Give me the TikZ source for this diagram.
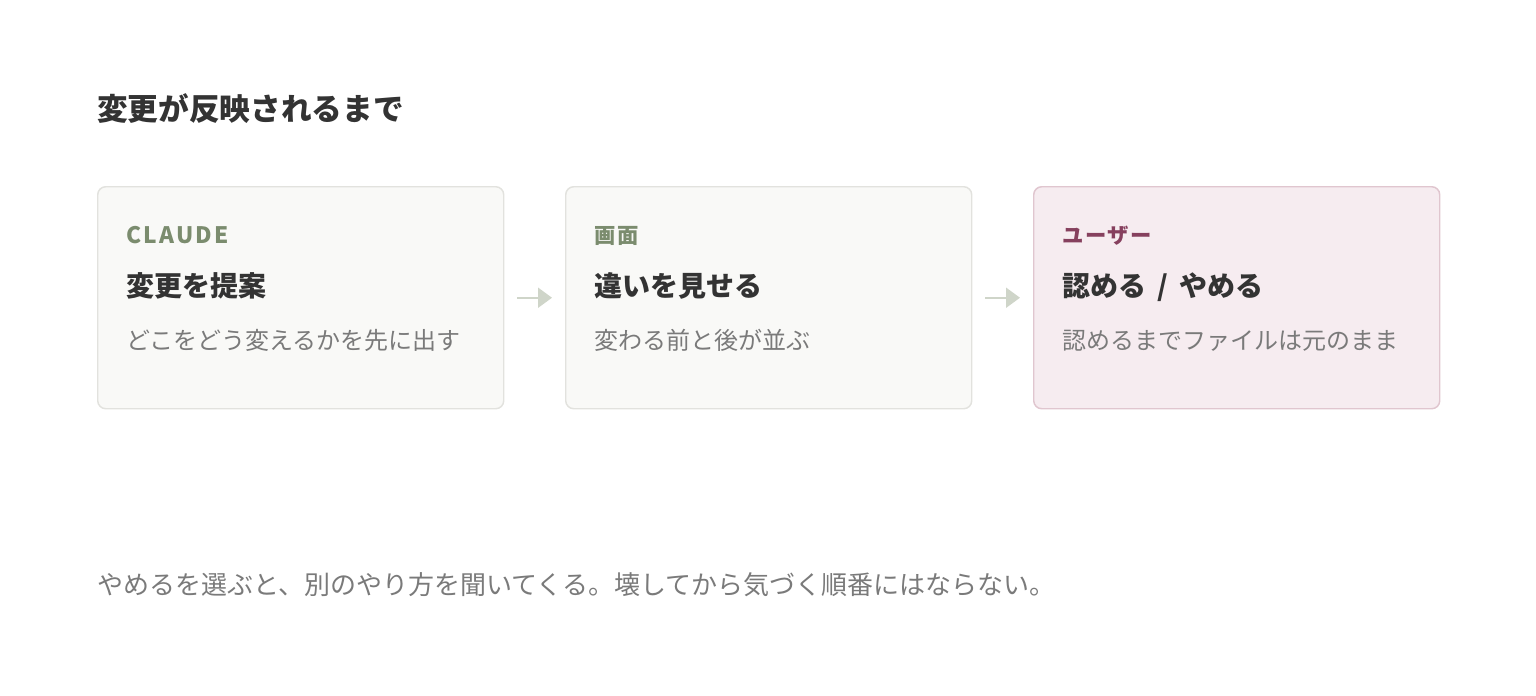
\documentclass[tikz,border=0pt]{standalone}
\usepackage{fontspec}
\setmainfont{Noto Sans CJK JP}
\usetikzlibrary{arrows.meta,positioning,calc}
\definecolor{ink}{HTML}{333333}
\definecolor{muted}{HTML}{7A7A7A}
\definecolor{cardfill}{HTML}{F9F9F7}
\definecolor{cardline}{HTML}{E2E2DE}
\definecolor{userfill}{HTML}{F6ECF0}
\definecolor{userline}{HTML}{E0C6CF}
\definecolor{sage}{HTML}{7B8C6E}
\definecolor{plum}{HTML}{86405E}
\definecolor{flowline}{HTML}{CFD5C9}
\tikzset{
  card/.style={draw=cardline,fill=cardfill,line width=1.1pt,rounded corners=6pt,
    minimum width=304.5pt,minimum height=166.5pt,inner sep=0pt},
  usercard/.style={card,draw=userline,fill=userfill},
  tag/.style={anchor=base west,inner sep=0pt,font=\fontsize{16}{18}\selectfont\bfseries},
  head/.style={anchor=base west,inner sep=0pt,text=ink,font=\fontsize{21}{25}\selectfont\bfseries},
  desc/.style={anchor=base west,inner sep=0pt,text=muted,font=\fontsize{18}{22}\selectfont},
  flow/.style={draw=flowline,line width=1.5pt,-{Triangle[length=10.5pt,width=15pt]},
    shorten <=9.75pt,shorten >=9.75pt}
}
\begin{document}
\begin{tikzpicture}[x=0.75pt,y=-0.75pt]
\useasboundingbox (0,0) rectangle (1536,696);
\node[anchor=base west,inner sep=0pt,text=ink,font=\fontsize{23}{27}\selectfont\bfseries] (title) at (97,120) {変更が反映されるまで};
% the three cards
\node[card,anchor=north west] (claude) at (97,186) {};
\node[card,anchor=north west] (screen) at (565,186) {};
\node[usercard,anchor=north west] (user) at (1033,186) {};
\draw[flow] (claude) -- (screen);
\draw[flow] (screen) -- (user);
% card texts
\node[tag,text=sage,font=\fontsize{17}{19}\selectfont\bfseries] (claudetag) at ($(claude.north west)+(29,57)$) {\addfontfeatures{LetterSpace=10}CLAUDE};
\node[head] (claudehead) at ($(claude.north west)+(29,110)$) {変更を提案};
\node[desc] (claudedesc) at ($(claude.north west)+(29,163)$) {どこをどう変えるかを先に出す};
\node[tag,text=sage] (screentag) at ($(screen.north west)+(29,57)$) {\addfontfeatures{LetterSpace=8}画面};
\node[head] (screenhead) at ($(screen.north west)+(29,110)$) {違いを見せる};
\node[desc] (screendesc) at ($(screen.north west)+(29,163)$) {変わる前と後が並ぶ};
\node[tag,text=plum] (usertag) at ($(user.north west)+(29,57)$) {\addfontfeatures{LetterSpace=8}ユーザー};
\node[head] (userhead) at ($(user.north west)+(29,110)$) {認める\hspace{0.4em}/\hspace{0.4em}やめる};
\node[desc] (userdesc) at ($(user.north west)+(29,163)$) {認めるまでファイルは元のまま};
\node[anchor=base west,inner sep=0pt,text=muted,font=\fontsize{19.5}{24}\selectfont] (note) at (97,594) {やめるを選ぶと、別のやり方を聞いてくる。壊してから気づく順番にはならない。};
\end{tikzpicture}
\end{document}
